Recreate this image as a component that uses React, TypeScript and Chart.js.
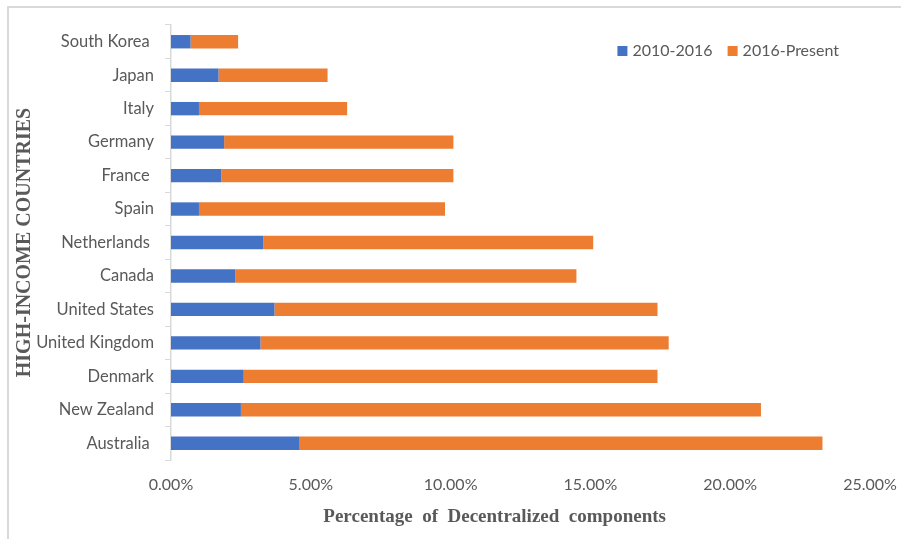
import React, { useEffect, useRef } from "react";
import { Chart, registerables } from "chart.js";

Chart.register(...registerables);

// Countries, top to bottom (trailing spaces kept as in the source labels)
const countries = [
  "South Korea ",
  "Japan",
  "Italy",
  "Germany",
  "France ",
  "Spain",
  "Netherlands ",
  "Canada",
  "United States",
  "United Kingdom",
  "Denmark",
  "New Zealand",
  "Australia ",
];

// Share of decentralized components, in percent
const period2010to2016 = [0.7, 1.7, 1.0, 1.9, 1.8, 1.0, 3.3, 2.3, 3.7, 3.2, 2.6, 2.5, 4.6];
const period2016toPresent = [1.7, 3.9, 5.3, 8.2, 8.3, 8.8, 11.8, 12.2, 13.7, 14.6, 14.8, 18.6, 18.7];

const seriesNames = ["2010-2016", "2016-Present"];
const seriesColors = ["#4472C4", "#ED7D31"];

const xTicksMin = 0;
const xTicksMax = 25;
const xTicksStep = 5;

const xTitle = "Percentage  of  Decentralized  components";
const yTitle = "HIGH-INCOME COUNTRIES";

const textGray = "#595959";
const lineGray = "#d9d9d9";
const sansFont = "Lato, 'Open Sans', sans-serif";
const serifFont = "'Liberation Serif', 'DejaVu Serif', serif";

// Legend drawn inside the plot area, near the top right
const insideLegend = {
  id: "insideLegend",
  afterDraw(chart: Chart) {
    const { ctx, chartArea } = chart;
    const box = 10;
    const gapText = 5;
    const gapItem = 15;
    ctx.save();
    ctx.font = `16px ${sansFont}`;
    ctx.textBaseline = "middle";
    ctx.textAlign = "left";
    const items = chart.data.datasets.map((ds) => ({
      text: String(ds.label),
      color: String(ds.backgroundColor),
      w: ctx.measureText(String(ds.label)).width,
    }));
    const total =
      items.reduce((s, it) => s + box + gapText + it.w, 0) + gapItem * (items.length - 1);
    let x = chartArea.right - 31 - total;
    const y = chartArea.top + 26;
    items.forEach((it) => {
      ctx.fillStyle = it.color;
      ctx.fillRect(x, y - box / 2, box, box);
      ctx.fillStyle = textGray;
      ctx.fillText(it.text, x + box + gapText, y);
      x += box + gapText + it.w + gapItem;
    });
    ctx.restore();
  },
};

// Horizontal axis title, set slightly left of the plot centre
const bottomTitle = {
  id: "bottomTitle",
  afterDraw(chart: Chart) {
    const { ctx, chartArea } = chart;
    ctx.save();
    ctx.font = `bold 19px ${serifFont}`;
    ctx.fillStyle = textGray;
    ctx.textAlign = "center";
    ctx.textBaseline = "middle";
    ctx.fillText(xTitle, chartArea.left + chartArea.width * 0.463, chartArea.bottom + 57);
    ctx.restore();
  },
};

export default function App() {
  const canvasRef = useRef<HTMLCanvasElement | null>(null);

  useEffect(() => {
    if (!canvasRef.current) return;
    const chart = new Chart(canvasRef.current, {
      type: "bar",
      data: {
        labels: countries,
        datasets: [
          {
            label: seriesNames[0],
            data: period2010to2016,
            backgroundColor: seriesColors[0],
            categoryPercentage: 0.8,
            barPercentage: 0.5,
          },
          {
            label: seriesNames[1],
            data: period2016toPresent,
            backgroundColor: seriesColors[1],
            categoryPercentage: 0.8,
            barPercentage: 0.5,
          },
        ],
      },
      options: {
        indexAxis: "y",
        animation: false,
        responsive: false,
        maintainAspectRatio: false,
        layout: { padding: { top: 25, right: 31, bottom: 0, left: 0 } },
        plugins: {
          legend: { display: false },
          tooltip: { enabled: false },
        },
        scales: {
          x: {
            stacked: true,
            min: xTicksMin,
            max: xTicksMax,
            grid: { display: false, drawTicks: false },
            border: { display: false },
            ticks: {
              stepSize: xTicksStep,
              padding: 15,
              color: textGray,
              font: { family: sansFont, size: 16 },
              callback: (v) => `${Number(v).toFixed(2)}%`,
            },
            afterFit: (scale: any) => {
              scale.height = 79;
              scale.paddingLeft = 0;
              scale.paddingRight = 0;
            },
          },
          y: {
            stacked: true,
            grid: {
              display: true,
              drawOnChartArea: false,
              drawTicks: true,
              tickLength: 6,
              color: lineGray,
              offset: true,
            },
            border: { display: true, color: lineGray, width: 1.5 },
            ticks: {
              padding: 11,
              color: textGray,
              font: { family: sansFont, size: 16.5 },
            },
            title: {
              display: true,
              text: yTitle,
              color: textGray,
              font: { family: serifFont, size: 20, weight: "bold" },
              padding: { top: 13, bottom: 0 },
            },
            afterFit: (scale: any) => {
              scale.width = 171;
              scale.paddingTop = 0;
              scale.paddingBottom = 0;
            },
          },
        },
      },
      plugins: [insideLegend, bottomTitle],
    });
    return () => chart.destroy();
  }, []);

  return (
    <div
      style={{
        position: "fixed",
        left: 0,
        top: 0,
        width: 901,
        height: 539,
        overflow: "hidden",
        background: "#ffffff",
      }}
    >
      <div
        style={{
          position: "absolute",
          left: 7,
          top: 6,
          width: 910,
          height: 560,
          border: `2px solid ${lineGray}`,
          boxSizing: "border-box",
        }}
      />
      <canvas
        ref={canvasRef}
        width={901}
        height={539}
        style={{ position: "absolute", left: 0, top: 0, width: 901, height: 539 }}
      />
    </div>
  );
}
